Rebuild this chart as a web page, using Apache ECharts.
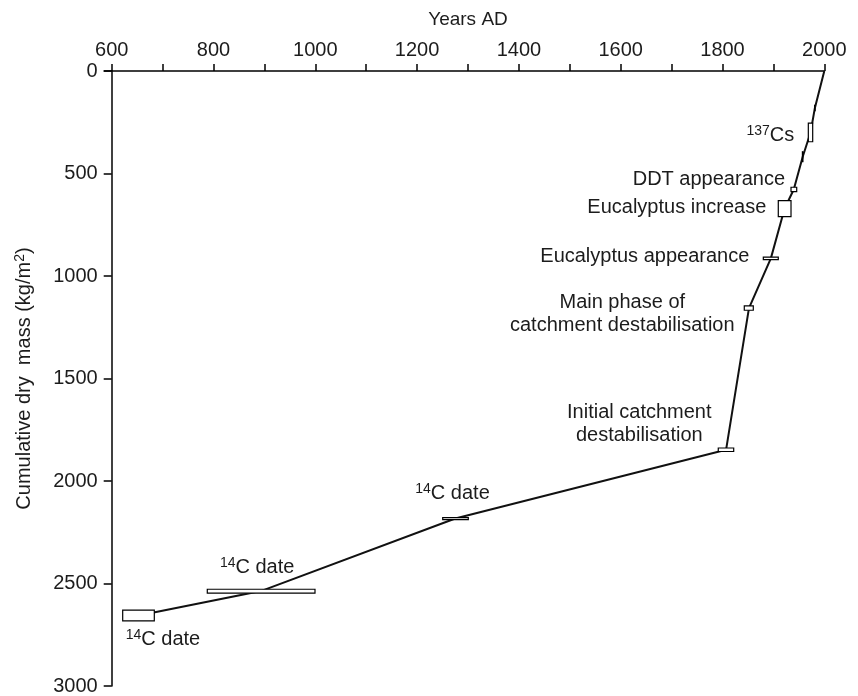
<!DOCTYPE html>
<html>
<head>
<meta charset="utf-8">
<script src="https://cdn.jsdelivr.net/npm/echarts@6/dist/echarts.min.js"></script>
<style>
html,body{margin:0;padding:0;background:#fff;}
#chart{width:858px;height:696px;}
</style>
</head>
<body>
<div id="chart"></div>
<script>
// Age-depth model line (Years AD vs cumulative dry mass)
const lineYears = [2000, 1981.5, 1973, 1957.6, 1940, 1922, 1895, 1852, 1807, 1275, 893, 653];
const lineMass  = [0, 180, 300, 418, 578, 671, 914, 1157, 1848, 2183, 2537, 2656];

// Dating boxes (age range x mass range)
const boxYearLo = [1981, 1968.6, 1957, 1934.6, 1909.6, 1880.2, 1842.8, 1791.7, 1250.3, 787.8, 621.6];
const boxYearHi = [1982, 1977.2, 1958, 1945.8, 1934.6, 1909.6, 1860.5, 1822.0, 1300.6, 999.4, 683.7];
const boxMassLo = [167, 254, 394, 567, 632, 908, 1146, 1839, 2179, 2528, 2630];
const boxMassHi = [194, 345, 442, 588, 710, 920, 1167, 1856, 2188, 2547, 2682];

// Annotations and the box each one describes
const annText = ['{s|137}Cs', 'DDT appearance', 'Eucalyptus increase', 'Eucalyptus appearance',
  'Main phase of\ncatchment destabilisation', 'Initial catchment\ndestabilisation',
  '{s|14}C date', '{s|14}C date', '{s|14}C date'];
const annBox = [1, 3, 4, 5, 6, 7, 8, 9, 10];

// Tick labels
const xTicks = [600, 800, 1000, 1200, 1400, 1600, 1800, 2000];
const yTicks = [0, 500, 1000, 1500, 2000, 2500, 3000];

// label placement styles: anchor ('l' box left, 'c' box center), pixel offset, alignment
const annStyle = [
  {a:'l', dx:-14, dy:3, align:'right'},
  {a:'l', dx:-6, dy:-10, align:'right'},
  {a:'l', dx:-12, dy:-1, align:'right'},
  {a:'l', dx:-14, dy:-2, align:'right'},
  {a:'l', dx:-122, dy:6, align:'center'},
  {a:'l', dx:-79, dy:-26, align:'center'},
  {a:'c', dx:-3, dy:-25, align:'center'},
  {a:'c', dx:-4, dy:-24, align:'center'},
  {a:'l', dx:3, dy:24, align:'left'}
];

const FONT = '"Liberation Sans", Arial, Helvetica, sans-serif';
const TXT = '#1c1c1c';
const GRID = {left: 111.7, right: 33.7, top: 71, bottom: 9.3};

const chart = echarts.init(document.getElementById('chart'), null, {renderer:'canvas'});

const boxData = boxYearLo.map((v, i) => [v, boxYearHi[i], boxMassLo[i], boxMassHi[i]]);
const lineData = lineYears.map((v, i) => [v, lineMass[i]]);
const annData = annText.map((t, i) => [i]);

chart.setOption({
  animation: false,
  backgroundColor: '#fff',
  grid: GRID,
  graphic: [{
    type: 'line', silent: true, z: 10,
    shape: {x1: GRID.left - 8, y1: GRID.top, x2: GRID.left, y2: GRID.top},
    style: {stroke: '#000', lineWidth: 1.5}
  }],
  xAxis: {
    type: 'value', position: 'top', min: xTicks[0], max: xTicks[xTicks.length-1], interval: 200,
    axisLine: {show: true, lineStyle: {color: '#000', width: 1.5}},
    axisTick: {show: true, inside: false, length: 7, lineStyle: {color: '#000', width: 1.5}},
    minorTick: {show: true, splitNumber: 2, length: 7, lineStyle: {color: '#000', width: 1.5}},
    splitLine: {show: false}, minorSplitLine: {show: false},
    axisLabel: {fontSize: 20, color: TXT, fontFamily: FONT, margin: 11, formatter: v => String(v)},
    name: 'Years AD', nameLocation: 'middle', nameGap: 42,
    nameTextStyle: {fontSize: 19, color: TXT, fontFamily: FONT}
  },
  yAxis: {
    type: 'value', inverse: true, min: yTicks[0], max: yTicks[yTicks.length-1], interval: 500,
    axisLine: {show: true, lineStyle: {color: '#000', width: 1.5}},
    axisTick: {show: true, inside: false, length: 8, lineStyle: {color: '#000', width: 1.5}},
    splitLine: {show: false},
    axisLabel: {fontSize: 20, color: TXT, fontFamily: FONT, margin: 14, formatter: v => String(v)},
    name: 'Cumulative dry  mass (kg/m{s|2})', nameLocation: 'middle', nameRotate: 90, nameGap: 76,
    nameTextStyle: {fontSize: 20, color: TXT, fontFamily: FONT,
      rich: {s: {fontSize: 14, color: TXT, fontFamily: FONT, verticalAlign: 'top', lineHeight: 23}}}
  },
  series: [
    {
      type: 'line', data: lineData, showSymbol: false, symbol: 'none',
      lineStyle: {color: '#111', width: 2}, z: 2, silent: true
    },
    {
      type: 'custom', data: boxData, z: 3, silent: true,
      encode: {x: [0, 1], y: [2, 3]},
      renderItem: function (params, api) {
        const p1 = api.coord([api.value(0), api.value(2)]);
        const p2 = api.coord([api.value(1), api.value(3)]);
        return {
          type: 'rect',
          shape: {x: Math.min(p1[0], p2[0]), y: Math.min(p1[1], p2[1]),
                  width: Math.abs(p2[0]-p1[0]), height: Math.abs(p2[1]-p1[1])},
          style: {fill: '#fff', stroke: '#000', lineWidth: 1.2}
        };
      }
    },
    {
      type: 'custom', data: annData, z: 4, silent: true,
      renderItem: function (params, api) {
        const i = api.value(0);
        const b = annBox[i];
        const st = annStyle[i];
        const cy = (boxMassLo[b] + boxMassHi[b]) / 2;
        const ax = st.a === 'l' ? boxYearLo[b] : (boxYearLo[b] + boxYearHi[b]) / 2;
        const p = api.coord([ax, cy]);
        return {
          type: 'text',
          x: p[0] + st.dx, y: p[1] + st.dy,
          style: {
            text: annText[i], fill: TXT, fontSize: 20, fontFamily: FONT,
            align: st.align, verticalAlign: 'middle', lineHeight: 23,
            rich: {s: {fontSize: 14, fill: TXT, fontFamily: FONT, verticalAlign: 'top', lineHeight: 23}}
          }
        };
      }
    }
  ]
});
</script>
</body>
</html>
